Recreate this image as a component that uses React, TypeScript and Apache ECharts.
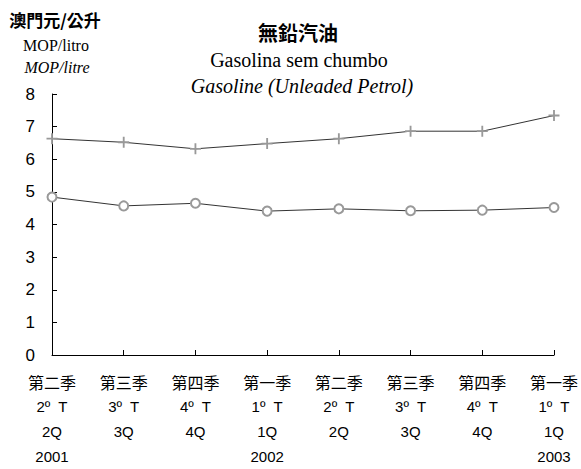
import React, { useEffect, useRef } from "react";
import * as echarts from "echarts";

const quartersZh = ["第二季", "第三季", "第四季", "第一季", "第二季", "第三季", "第四季", "第一季"];
const quartersPt = ["2º  T", "3º  T", "4º  T", "1º  T", "2º  T", "3º  T", "4º  T", "1º  T"];
const quartersEn = ["2Q", "3Q", "4Q", "1Q", "2Q", "3Q", "4Q", "1Q"];
const years = ["2001", "", "", "2002", "", "", "", "2003"];
const plusSeries = [6.63, 6.52, 6.32, 6.48, 6.63, 6.86, 6.86, 7.34];
const circleSeries = [4.84, 4.57, 4.65, 4.41, 4.48, 4.42, 4.44, 4.52];
const yTicks = [0, 8, 1];

const categories = quartersZh.map((_, i) => String(i));

const SANS = "Liberation Sans, Arial, Noto Sans CJK TC, sans-serif";
const SERIF = "Liberation Serif, Times New Roman, serif";
const CJK = "Noto Sans CJK TC, Liberation Sans, sans-serif";

function txt(text: string, x: number, y: number, size: number, family: string, extra: any = {}) {
  return {
    type: "text",
    x,
    y,
    style: {
      text,
      fontSize: size,
      fontFamily: family,
      fill: "#000",
      align: "center",
      verticalAlign: "middle",
      ...extra,
    },
  };
}

export default function App() {
  const ref = useRef<HTMLDivElement>(null);
  useEffect(() => {
    if (!ref.current) return;
    const chart = echarts.init(ref.current, undefined, { renderer: "svg" });
    chart.setOption({
      animation: false,
      backgroundColor: "#fff",
      grid: { left: 52, right: 26, top: 94, bottom: 107, containLabel: false },
      xAxis: {
        type: "category",
        data: categories,
        boundaryGap: false,
        axisLine: { lineStyle: { color: "#000", width: 1 } },
        axisTick: { inside: true, length: 5, lineStyle: { color: "#000" } },
        axisLabel: {
          interval: 0,
          margin: 14,
          color: "#000",
          fontSize: 15,
          lineHeight: 25,
          fontFamily: SANS,
          formatter: (v: string) => {
            const i = Number(v);
            return [
              `{zh|${quartersZh[i]}}`,
              `{t|${quartersPt[i]}}`,
              `{t|${quartersEn[i]}}`,
              `{t|${years[i] || " "}}`,
            ].join("\n");
          },
          rich: {
            zh: { fontSize: 16, lineHeight: 25, fontFamily: CJK, color: "#000" },
            t: { fontSize: 15, lineHeight: 25, fontFamily: SANS, color: "#000" },
          },
        },
      },
      yAxis: {
        type: "value",
        min: yTicks[0],
        max: yTicks[1],
        interval: yTicks[2],
        splitLine: { show: false },
        axisLine: { show: true, lineStyle: { color: "#000", width: 1 } },
        axisTick: { show: true, inside: true, length: 5, lineStyle: { color: "#000" } },
        axisLabel: { color: "#000", fontSize: 17, fontFamily: SANS, margin: 17 },
      },
      series: [
        {
          type: "line",
          data: plusSeries,
          symbol: "path://M5,0H7V5H12V7H7V12H5V7H0V5H5Z",
          symbolSize: 11,
          lineStyle: { color: "#333", width: 1 },
          itemStyle: { color: "#999", borderWidth: 0 },
        },
        {
          type: "line",
          data: circleSeries,
          symbol: "emptyCircle",
          symbolSize: 9,
          lineStyle: { color: "#333", width: 1 },
          itemStyle: { color: "#999", borderColor: "#999", borderWidth: 2.5 },
        },
      ],
      graphic: [
        txt("澳門元/公升", 55, 19, 17, CJK, { fontWeight: "bold" }),
        txt("MOP/litro", 56, 45, 16, SERIF),
        txt("MOP/litre", 57, 67, 16, SERIF, { fontStyle: "italic" }),
        txt("無鉛汽油", 298, 32, 20, CJK, { fontWeight: "bold" }),
        txt("Gasolina sem chumbo", 299, 60, 20, SERIF),
        txt("Gasoline (Unleaded Petrol)", 302, 86, 20, SERIF, { fontStyle: "italic" }),
      ],
    });
    return () => chart.dispose();
  }, []);
  return <div ref={ref} style={{ width: 581, height: 469, position: "absolute", left: 0, top: 0 }} />;
}
